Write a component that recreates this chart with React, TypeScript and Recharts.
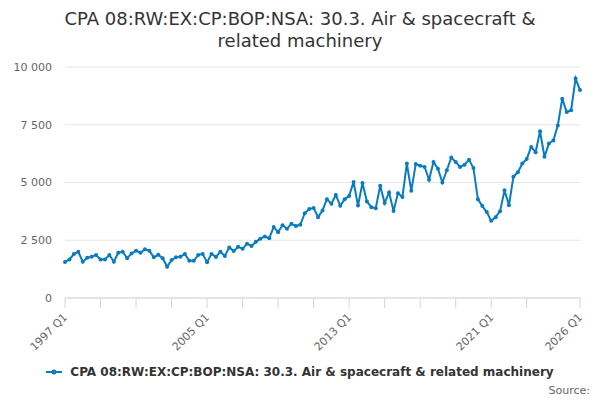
import { LineChart, Line, XAxis, YAxis, CartesianGrid } from 'recharts'

const SERIES_NAME = 'CPA 08:RW:EX:CP:BOP:NSA: 30.3. Air & spacecraft & related machinery'
const FIRST_YEAR = 1997

// quarterly values, 1997 Q1 .. 2026 Q1
const values = [
  1560, 1670, 1900, 2000, 1570, 1740, 1790, 1860, 1670, 1670, 1860, 1570,
  1960, 2000, 1720, 1930, 2050, 1960, 2110, 2050, 1760, 1870, 1720, 1350,
  1640, 1760, 1790, 1900, 1610, 1610, 1860, 1910, 1550, 1910, 1780, 2000,
  1820, 2190, 2030, 2220, 2130, 2350, 2250, 2430, 2570, 2660, 2590, 3070,
  2850, 3150, 3000, 3210, 3120, 3170, 3670, 3850, 3900, 3500, 3790, 4280,
  4080, 4460, 3990, 4280, 4420, 5020, 4000, 4980, 4180, 3930, 3890, 4860,
  4110, 4570, 3770, 4540, 4370, 5820, 4640, 5800, 5730, 5670, 5120, 5890,
  5600, 5000, 5530, 6080, 5890, 5670, 5770, 5990, 5630, 4280, 3980, 3720,
  3340, 3500, 3760, 4660, 4020, 5250, 5440, 5820, 6020, 6540, 6310, 7220,
  6110, 6690, 6820, 7470, 8630, 8050, 8130, 9500, 9000,
]

const quarters = values.map((_, i) => `${FIRST_YEAR + Math.floor(i / 4)} Q${(i % 4) + 1}`)

const tickQuarters = [
  '1997 Q1', '1999 Q1', '2001 Q1', '2003 Q1', '2005 Q1', '2007 Q1', '2009 Q1',
  '2011 Q1', '2013 Q1', '2015 Q1', '2017 Q1', '2019 Q1', '2021 Q1', '2023 Q1', '2026 Q1',
]
const labelledQuarters = ['1997 Q1', '2005 Q1', '2013 Q1', '2021 Q1', '2026 Q1']
const yTicks = [0, 2500, 5000, 7500, 10000]

const data = quarters.map((q, i) => ({ quarter: q, value: values[i] }))

const BLUE = '#0b7bc1'
const FONT = '"DejaVu Sans", sans-serif'

function fmt(v: number) {
  return String(v).replace(/\B(?=(\d{3})+(?!\d))/g, ' ')
}

function XTick(props: any) {
  const { x, y, payload } = props
  if (!labelledQuarters.includes(payload.value)) return null
  return (
    <text
      x={x + 3}
      y={y + 8}
      transform={`rotate(-45, ${x + 3}, ${y + 8})`}
      textAnchor="end"
      fill="#666"
      fontSize={11}
      fontFamily={FONT}
    >
      {payload.value}
    </text>
  )
}

export default function App() {
  return (
    <div style={{ position: 'absolute', left: 0, top: 0, width: 600, height: 400, background: '#fff', fontFamily: FONT }}>
      <div style={{ position: 'absolute', top: 8, left: 0, width: 600, textAlign: 'center', fontSize: 18, lineHeight: '22px', color: '#333' }}>
        CPA 08:RW:EX:CP:BOP:NSA: 30.3. Air &amp; spacecraft &amp;<br />related machinery
      </div>
      <LineChart width={600} height={400} data={data} margin={{ top: 67, right: 20, bottom: 0, left: 0 }}>
        <CartesianGrid horizontal vertical={false} stroke="#e6e6e6" />
        <XAxis
          dataKey="quarter"
          ticks={tickQuarters}
          interval={0}
          height={102}
          tick={<XTick />}
          tickSize={10}
          tickLine={{ stroke: '#ccd6eb' }}
          axisLine={{ stroke: '#ccd6eb' }}
        />
        <YAxis
          width={65}
          domain={[0, 10000]}
          ticks={yTicks}
          tickFormatter={fmt}
          axisLine={false}
          tickLine={false}
          tickSize={0}
          tickMargin={13}
          tick={{ fill: '#666', fontSize: 11, fontFamily: FONT }}
        />
        <Line
          type="linear"
          dataKey="value"
          stroke={BLUE}
          strokeWidth={2}
          dot={{ r: 2, fill: BLUE, stroke: BLUE, strokeWidth: 0 }}
          isAnimationActive={false}
        />
      </LineChart>
      <div style={{ position: 'absolute', top: 365, left: 0, width: 600, display: 'flex', justifyContent: 'center', alignItems: 'center' }}>
        <svg width={20} height={12} style={{ marginRight: 4 }}>
          <line x1={0} y1={6} x2={16} y2={6} stroke={BLUE} strokeWidth={2} />
          <circle cx={8} cy={6} r={2.5} fill={BLUE} />
        </svg>
        <span style={{ fontSize: 12, fontWeight: 'bold', color: '#333' }}>{SERIES_NAME}</span>
      </div>
      <div style={{ position: 'absolute', top: 384, right: 10, fontSize: 11, color: '#666' }}>Source:</div>
    </div>
  )
}
